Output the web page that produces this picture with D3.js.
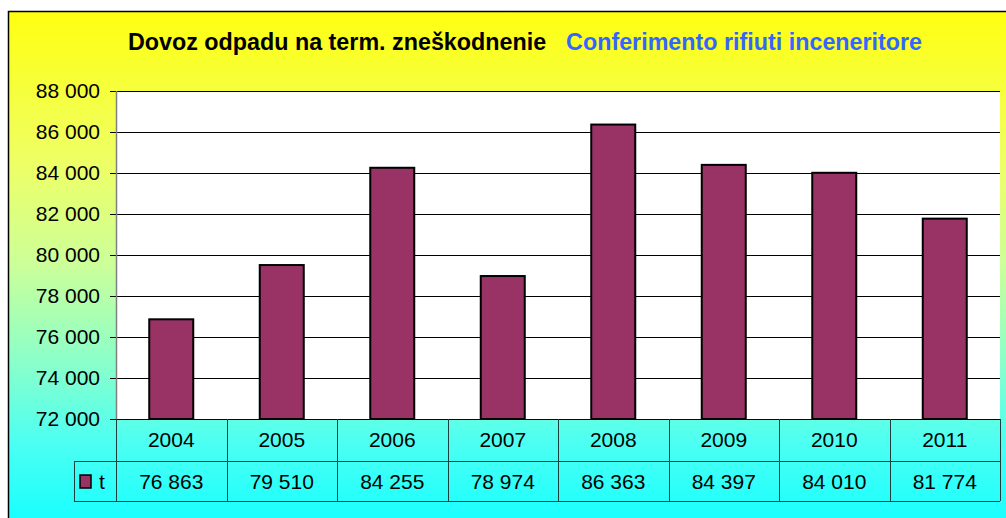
<!DOCTYPE html>
<html>
<head>
<meta charset="utf-8">
<script src="https://cdn.jsdelivr.net/npm/d3@7"></script>
<style>
  body { margin: 0; background: #fff; }
  svg { display: block; font-family: "Liberation Sans", Arial, sans-serif; }
</style>
</head>
<body>
<div id="chart"></div>
<script>
// DATA
const years = ["2004", "2005", "2006", "2007", "2008", "2009", "2010", "2011"];
const tonnes = [76863, 79510, 84255, 78974, 86363, 84397, 84010, 81774];
const yTicks = [72000, 74000, 76000, 78000, 80000, 82000, 84000, 86000, 88000];
const seriesName = "t";

const fmt = v => d3.format(",")(v).replace(/,/g, " ");

const svgWidth = 1006, svgHeight = 518;
const margin = { top: 91, right: 6, bottom: 99, left: 116 };
const plotW = 884, plotH = 328;

const svg = d3.select("#chart").append("svg")
    .attr("width", svgWidth)
    .attr("height", svgHeight);

// background gradient yellow -> pale green -> cyan
const defs = svg.append("defs");
const grad = defs.append("linearGradient")
    .attr("id", "bg").attr("x1", 0).attr("y1", 0).attr("x2", 0).attr("y2", 1);
[["0%", "#ffff10"], ["30%", "#eeff66"], ["50%", "#ccff99"], ["70%", "#88ffcc"], ["85%", "#4dfff2"], ["100%", "#1affff"]]
    .forEach(s => grad.append("stop").attr("offset", s[0]).attr("stop-color", s[1]));

svg.append("rect")
    .attr("x", 8).attr("y", 11)
    .attr("width", svgWidth - 8).attr("height", svgHeight - 11)
    .attr("fill", "url(#bg)");
// frame top/left
svg.append("path")
    .attr("d", `M8.5,${svgHeight} V11.5 H${svgWidth}`)
    .attr("fill", "none").attr("stroke", "#000").attr("stroke-width", 1.5);

// title
const title = svg.append("text")
    .attr("x", 128).attr("y", 50)
    .attr("font-size", 23.3).attr("font-weight", "bold");
title.append("tspan").attr("fill", "#000").text("Dovoz odpadu na term. zneškodnenie");
title.append("tspan").attr("fill", "#3366ff").attr("dx", 20).text("Conferimento rifiuti inceneritore");

const chartGroup = svg.append("g")
    .attr("transform", `translate(${margin.left}, ${margin.top})`);

// scales
const colScale = d3.scaleBand().domain(years).range([0, plotW]);
const yScale = d3.scaleLinear()
    .domain([72000, 88000])
    .range([plotH, 0]);

// plot area
chartGroup.append("rect")
    .attr("width", plotW).attr("height", plotH)
    .attr("fill", "#fff");

// gridlines
chartGroup.append("g")
    .selectAll("line")
    .data(yTicks)
    .enter()
    .append("line")
    .attr("x1", 0).attr("x2", plotW)
    .attr("y1", d => Math.round(yScale(d)) + 0.5)
    .attr("y2", d => Math.round(yScale(d)) + 0.5)
    .attr("stroke", "#000");

// y axis
const yAxis = d3.axisLeft(yScale)
    .tickValues(yTicks)
    .tickSize(6)
    .tickPadding(10)
    .tickFormat(fmt);
const yAxisG = chartGroup.append("g").call(yAxis);
yAxisG.select(".domain").remove();
yAxisG.selectAll(".tick line").attr("stroke", "#000");
yAxisG.selectAll(".tick text")
    .attr("font-size", 21)
    .attr("font-family", "Liberation Sans, Arial, sans-serif")
    .attr("fill", "#000");

// gray left edge of plot
chartGroup.append("line")
    .attr("x1", 0.5).attr("x2", 0.5)
    .attr("y1", 0).attr("y2", plotH)
    .attr("stroke", "#808080").attr("stroke-width", 1.5);

// bars
chartGroup.selectAll(".bar")
    .data(tonnes)
    .enter()
    .append("rect")
    .attr("class", "bar")
    .attr("x", (d, i) => colScale(years[i]) + (colScale.bandwidth() - 44) / 2)
    .attr("y", d => yScale(d))
    .attr("width", 44)
    .attr("height", d => yScale(72000) - yScale(d))
    .attr("fill", "#993366")
    .attr("stroke", "#000")
    .attr("stroke-width", 2);

// data table
const table = chartGroup.append("g").attr("transform", `translate(0, ${plotH})`);
const rowH1 = 42, rowH2 = 40;
const lineColor = "#1f3f3f";

table.append("line").attr("x1", 0).attr("x2", plotW).attr("y1", 0.5).attr("y2", 0.5)
    .attr("stroke", "#000");
table.append("line").attr("x1", -42).attr("x2", plotW).attr("y1", rowH1 + 0.5).attr("y2", rowH1 + 0.5)
    .attr("stroke", lineColor);
table.append("line").attr("x1", -42).attr("x2", plotW)
    .attr("y1", rowH1 + rowH2 + 0.5).attr("y2", rowH1 + rowH2 + 0.5)
    .attr("stroke", lineColor);
const vx = years.map(y => colScale(y)).concat([plotW]);
table.selectAll(".vline")
    .data(vx)
    .enter()
    .append("line")
    .attr("x1", d => Math.round(d) + 0.5).attr("x2", d => Math.round(d) + 0.5)
    .attr("y1", 0).attr("y2", rowH1 + rowH2)
    .attr("stroke", lineColor);
table.append("line").attr("x1", -41.5).attr("x2", -41.5)
    .attr("y1", rowH1).attr("y2", rowH1 + rowH2)
    .attr("stroke", lineColor);

// year labels
table.selectAll(".year")
    .data(years)
    .enter()
    .append("text")
    .attr("x", d => colScale(d) + colScale.bandwidth() / 2)
    .attr("y", 28)
    .attr("text-anchor", "middle")
    .attr("font-size", 21)
    .text(d => d);

// value labels
table.selectAll(".val")
    .data(tonnes)
    .enter()
    .append("text")
    .attr("x", (d, i) => colScale(years[i]) + colScale.bandwidth() / 2)
    .attr("y", rowH1 + 28)
    .attr("text-anchor", "middle")
    .attr("font-size", 21)
    .text(d => fmt(d));

// legend key
table.append("rect")
    .attr("x", -36).attr("y", rowH1 + 14)
    .attr("width", 11).attr("height", 13)
    .attr("fill", "#993366").attr("stroke", "#000").attr("stroke-width", 1.5);
table.append("text")
    .attr("x", -17).attr("y", rowH1 + 28)
    .attr("font-size", 21)
    .text(seriesName);
</script>
</body>
</html>
